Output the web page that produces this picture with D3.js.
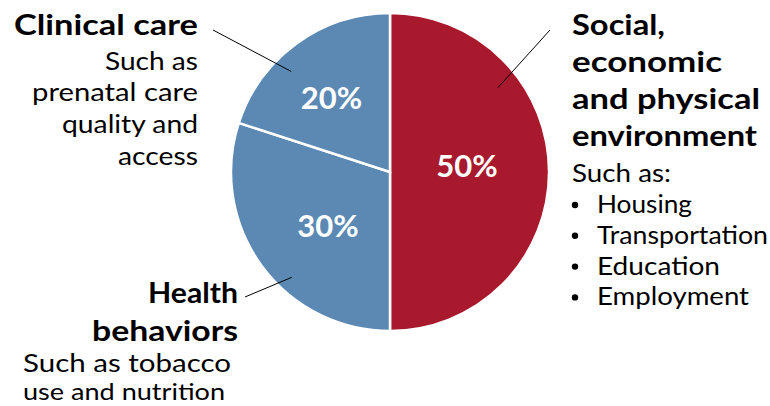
<!DOCTYPE html>
<html><head><meta charset="utf-8">
<script src="https://cdn.jsdelivr.net/npm/d3@7"></script>
<style>body{margin:0;background:#fff}svg{display:block}</style>
</head><body><div id="chart"></div>
<script>
const categories = ["Social, economic and physical environment", "Health behaviors", "Clinical care"];
const values = [50, 30, 20];
const valueLabels = ["50%", "30%", "20%"];
const colors = ["#A8192E", "#5B89B4", "#5B89B4"];
const bullets = ["Housing", "Transportation", "Education", "Employment"];

const W = 770, H = 406;
const cx = 390, cy = 172, R = 159;
const svg = d3.select("#chart").append("svg").attr("width", W).attr("height", H);
const g = svg.append("g").attr("transform", `translate(${cx},${cy})`);

const pie = d3.pie().sort(null).value(d => d)(values);
const arc = d3.arc().innerRadius(0).outerRadius(R);
g.selectAll("path").data(pie).join("path")
  .attr("d", arc).attr("fill", (d, i) => colors[i])
  .attr("stroke", "#fff").attr("stroke-width", 2.5);

const lblOffsets = [[-2.5, -6], [2.3, 7.3], [-11.8, -9.7]];
g.selectAll("text.pct").data(pie).join("text").attr("class", "pct")
  .attr("x", (d, i) => arc.centroid(d)[0] + lblOffsets[i][0])
  .attr("y", (d, i) => arc.centroid(d)[1] + lblOffsets[i][1])
  .attr("text-anchor", "middle").attr("dy", "0.36em")
  .attr("fill", "#fff").attr("font-family", "Lato").attr("font-weight", 700)
  .attr("font-size", 31).text((d, i) => valueLabels[i]);

// leader lines: angle (deg) inside the slice, inner radius, outer point
const leaders = [
  {a: 52, r: 137, to: [550, 30]},
  {a: 223, r: 144, to: [245, 297]},
  {a: 315.5, r: 141, to: [213, 30]}
];
leaders.forEach(l => {
  const t = l.a * Math.PI / 180;
  svg.append("line")
    .attr("x1", cx + Math.sin(t) * l.r).attr("y1", cy - Math.cos(t) * l.r)
    .attr("x2", l.to[0]).attr("y2", l.to[1])
    .attr("stroke", "#000").attr("stroke-width", 1);
});

const FONT = "Lato";
function txt(x, y, anchor, t, s, b, w) {
  const el = svg.append("text").attr("x", x).attr("y", y)
    .attr("text-anchor", anchor).attr("font-family", FONT)
    .attr("font-weight", b ? 700 : 400).attr("font-size", s)
    .attr("fill", "#000").text(t);
  if (w) el.attr("textLength", w).attr("lengthAdjust", "spacingAndGlyphs");
  return el;
}
function block(x, anchor, lines) {
  lines.forEach(l => txt(x, l.y, anchor, l.t, l.s, l.b, l.w));
}
block(198, "end", [
  {t: "Clinical care", y: 35, s: 29, b: true, w: 184},
  {t: "Such as", y: 70, s: 25, w: 93},
  {t: "prenatal care", y: 101, s: 25, w: 166},
  {t: "quality and", y: 133, s: 25, w: 136},
  {t: "access", y: 165, s: 25, w: 80}
]);
block(572, "start", [
  {t: "Social,", y: 35, s: 29, b: true, w: 93},
  {t: "economic", y: 72, s: 29, b: true, w: 150},
  {t: "and physical", y: 109, s: 29, b: true, w: 188},
  {t: "environment", y: 146, s: 29, b: true, w: 185},
  {t: "Such as:", y: 182, s: 25, w: 99}
]);
const bulletW = [95, 171, 123, 152];
bullets.forEach((b, i) => {
  const y = 213 + i * 30.8;
  svg.append("circle").attr("cx", 575).attr("cy", y - 8).attr("r", 3.2).attr("fill", "#000");
  txt(597, y, "start", b, 25, false, bulletW[i]);
});
block(238, "end", [
  {t: "Health", y: 303, s: 29, b: true, w: 90},
  {t: "behaviors", y: 341, s: 29, b: true, w: 146}
]);
block(23, "start", [
  {t: "Such as tobacco", y: 372, s: 25, w: 208},
  {t: "use and nutrition", y: 400, s: 24, w: 202}
]);
</script></body></html>
